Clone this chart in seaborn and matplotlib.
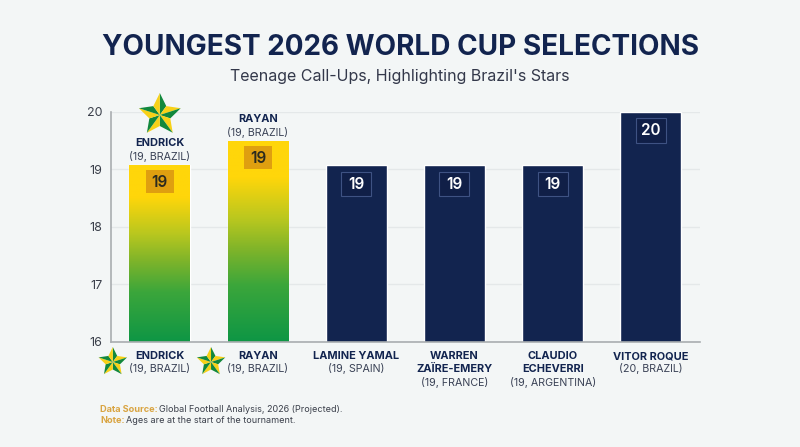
#!/usr/bin/env python3
# -*- coding: utf-8 -*-
"""Youngest 2026 World Cup selections - bar chart with Brazil highlights."""

import numpy as np
import pandas as pd
import matplotlib
matplotlib.use('Agg')
import matplotlib.pyplot as plt
from matplotlib.colors import LinearSegmentedColormap
from matplotlib.patches import Polygon, Rectangle
import seaborn as sns

players = ['ENDRICK', 'RAYAN', 'LAMINE YAMAL', 'WARREN\nZAÏRE-EMERY', 'CLAUDIO\nECHEVERRI', 'VITOR ROQUE']
details = ['(19, BRAZIL)', '(19, BRAZIL)', '(19, SPAIN)', '(19, FRANCE)', '(19, ARGENTINA)', '(20, BRAZIL)']
bar_heights = [19.07, 19.48, 19.07, 19.07, 19.07, 20.0]
badge_labels = ['19', '19', '19', '19', '19', '20']
y_ticks = [16, 17, 18, 19, 20]

NAVY = '#12244F'
BG = '#F3F6F6'
YELLOW = '#FFD60A'
GREEN = '#0E9645'

W, H = 800, 447

sns.set_theme(style='white')
plt.rcParams['font.family'] = ['Inter', 'DejaVu Sans']

df = pd.DataFrame({'player': players, 'age': bar_heights})

fig = plt.figure(figsize=(W / 100, H / 100), dpi=100, facecolor=BG)
ax = fig.add_axes([110.7 / W, (H - 342) / H, (700 - 110.7) / W, (342 - 111.5) / H])
ax.set_facecolor('none')

sns.barplot(data=df, x='player', y='age', color=NAVY, width=0.62, ax=ax, zorder=2, saturation=1)
ax.set_ylim(16, 20)
ax.set_xlim(-0.5, 5.5)
ax.set_xlabel('')
ax.set_ylabel('')
ax.set_yticks(y_ticks)
ax.set_xticks([])
ax.tick_params(axis='y', length=0, pad=6, labelsize=9, labelcolor='#3A3F4A')
ax.yaxis.grid(True, color='#E4E8E9', linewidth=1)
ax.set_axisbelow(True)
sns.despine(ax=ax, top=True, right=True)
for side in ['left', 'bottom']:
    ax.spines[side].set_color('#A9ADB0')
    ax.spines[side].set_linewidth(1.2)

# Gradient fill on the two highlighted bars
grad = LinearSegmentedColormap.from_list('br', [(0, GREEN), (0.28, '#3BA63B'), (0.46, '#7FB42A'),
                                                (0.61, '#B8C71F'), (0.82, YELLOW), (1, YELLOW)])
bars = list(ax.patches)
for bar in bars[:2]:
    x0, w, h = bar.get_x(), bar.get_width(), bar.get_height()
    gradient = np.linspace(1, 0, 256).reshape(-1, 1)
    bar.set_facecolor('none')
    ax.imshow(gradient, cmap=grad, aspect='auto', extent=(x0, x0 + w, 16, h), zorder=2, vmin=0, vmax=1)
ax.set_ylim(16, 20)
ax.set_xlim(-0.5, 5.5)

# Overlay in pixel coordinates for labels and badges
over = fig.add_axes([0, 0, 1, 1])
over.set_xlim(0, W)
over.set_ylim(H, 0)
over.axis('off')


def to_px(x, y):
    px, py = ax.transData.transform((x, y))
    return px, H - py


def draw_star(cx, cy, r):
    """Faceted five point star, yellow and green."""
    angles = np.deg2rad(-90 + 36 * np.arange(10))
    radii = np.where(np.arange(10) % 2 == 0, r, r * 0.5)
    pts = np.c_[cx + radii * np.cos(angles), cy + radii * np.sin(angles)]
    for i in range(10):
        col = '#12883C' if i % 2 == 0 else '#F7D117'
        over.add_patch(Polygon([(cx, cy), pts[i], pts[(i + 1) % 10]], closed=True,
                               facecolor=col, edgecolor='none', zorder=5))


for i, bar in enumerate(bars):
    cx, top = to_px(bar.get_x() + bar.get_width() / 2, bar.get_height())

    # Value badge
    if i < 2:
        bw, bh, by = 28, 23, top + 5
        face, edge, col = '#DF9F10', 'none', '#2B2A1E'
    else:
        bw, bh, by = 30, 24.5, top + 6.5
        face, edge, col = '#101F47', '#3E5283', 'white'
    over.add_patch(Rectangle((cx - bw / 2, by), bw, bh, facecolor=face, edgecolor=edge, linewidth=0.8, zorder=4))
    over.text(cx, by + bh / 2 + 0.5, badge_labels[i], ha='center', va='center', fontsize=11,
              fontweight='semibold', color=col, zorder=5)

    # Name under axis
    lines = players[i].split('\n')
    for j, line in enumerate(lines):
        over.text(cx, 356 + 13 * j, line, ha='center', va='center', fontsize=7.9,
                  fontweight='bold', color=NAVY)
    over.text(cx, 356 + 13 * len(lines), details[i], ha='center', va='center', fontsize=7.7, color='#3A4256')

    # Highlighted players also get the name above the bar
    if i < 2:
        over.text(cx, top - 22.5, players[i], ha='center', va='center', fontsize=7.9,
                  fontweight='bold', color=NAVY)
        over.text(cx, top - 9, details[i], ha='center', va='center', fontsize=7.7, color='#3A4256')
        draw_star(cx - 47, 362, 15)

draw_star(to_px(0, 20)[0], 115, 22)

# Title and notes
over.text(400.5, 47.5, 'YOUNGEST 2026 WORLD CUP SELECTIONS', ha='center', va='center',
          fontsize=20.1, fontweight='bold', color=NAVY)
over.text(400, 76.5, "Teenage Call-Ups, Highlighting Brazil's Stars", ha='center', va='center',
          fontsize=11.5, color='#33384A')

over.text(100, 409, 'Data Source:', ha='left', va='center', fontsize=6.6, fontweight='bold', color='#D9A441')
over.text(159, 409, 'Global Football Analysis, 2026 (Projected).', ha='left', va='center', fontsize=6.5, color='#3A3F4A')
over.text(100, 420.5, 'Note:', ha='left', va='center', fontsize=6.6, fontweight='bold', color='#D9A441')
over.text(126, 420.5, 'Ages are at the start of the tournament.', ha='left', va='center', fontsize=6.5, color='#3A3F4A')

fig.savefig('out.png', dpi=100, facecolor=BG)
plt.close(fig)
